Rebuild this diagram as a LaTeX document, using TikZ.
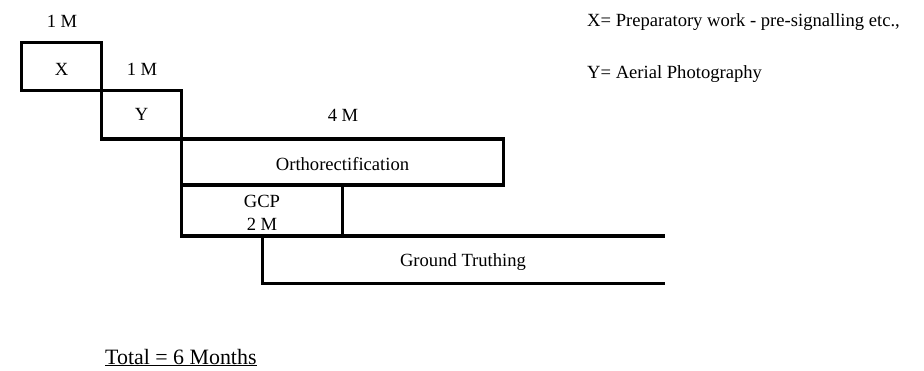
\documentclass[tikz,border=0pt]{standalone}
\usepackage{fontspec}
\setmainfont{Liberation Serif}
\begin{document}
\begin{tikzpicture}[x=1pt,y=-1pt,font=\fontsize{18.6}{22}\selectfont]
\tikzset{box/.style={draw, rectangle, line width=3.5pt, inner sep=0pt, outer sep=0pt},
bar/.style={draw, line width=3.5pt},
txt/.style={anchor=base, inner sep=0pt}}
\useasboundingbox (0,0) rectangle (924,370);
\begin{scope}
\node[box, minimum width=80pt, minimum height=48.4pt] (X) at (61.7,66.5) {};
\node[box, minimum width=80pt, minimum height=48.3pt] (Y) at (141.7,114.85) {};
\node[box, minimum width=321.6pt, minimum height=46pt] (ortho) at (342.5,162) {};
\node[box, minimum width=161pt, minimum height=51pt] (gcp) at (262.2,210.5) {};
\coordinate (gcpend) at (665,236);
\coordinate (gtstart) at (262.7,236);
\coordinate (gtend) at (665,283.3);
\path[bar] (gcp.south west) -- (gcpend);
\path[bar] (gtstart) |- (gtend);
\node[txt] (xm) at (62,27) {1 M};
\node[txt] (ym) at (142,75) {1 M};
\node[txt] (om) at (343,121.7) {4 M};
\node[txt] (xlab) at (61.7,75) {X};
\node[txt] (ylab) at (141.7,120) {Y};
\node[txt] (olab) at (342.5,170) {Orthorectification};
\node[txt] (glab) at (262,207) {GCP};
\node[txt] (gm) at (262,230) {2 M};
\node[txt] (gtlab) at (463,266.7) {Ground Truthing};
\node[txt, anchor=base west] (xkey) at (587,26.7) {X= Preparatory work - pre-signalling etc.,};
\node[txt, anchor=base west] (ykey) at (587,78.3) {Y= Aerial Photography};
\node[txt, anchor=base west, font=\fontsize{21.9}{26}\selectfont] (total) at (105,364) {\underline{Total = 6 Months}};
\end{scope}
\end{tikzpicture}
\end{document}
